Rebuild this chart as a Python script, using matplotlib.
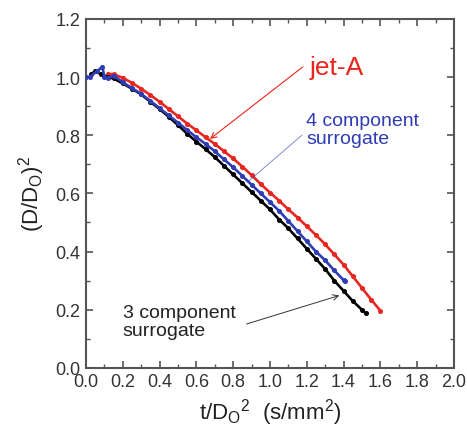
import numpy as np
import matplotlib
matplotlib.use("Agg")
import matplotlib.pyplot as plt

plt.rcParams['font.family'] = ['Liberation Sans', 'DejaVu Sans']
plt.rcParams['mathtext.fontset'] = 'custom'
plt.rcParams['mathtext.rm'] = 'Liberation Sans'
plt.rcParams['mathtext.it'] = 'Liberation Sans'

# data
t_black = [0.03, 0.05, 0.08, 0.12, 0.15, 0.20, 0.25, 0.30, 0.35, 0.40, 0.45, 0.50,
           0.55, 0.60, 0.65, 0.70, 0.75, 0.80, 0.85, 0.90, 0.95, 1.00, 1.05, 1.10,
           1.15, 1.20, 1.25, 1.30, 1.35, 1.40, 1.45, 1.50, 1.52]
d_black = [1.01, 1.02, 1.01, 1.00, 0.995, 0.978, 0.96, 0.94, 0.915, 0.89, 0.863, 0.835,
           0.805, 0.778, 0.752, 0.725, 0.695, 0.665, 0.635, 0.605, 0.575, 0.545, 0.51, 0.48,
           0.445, 0.41, 0.375, 0.34, 0.30, 0.265, 0.23, 0.20, 0.188]

t_blue = [0.00, 0.02, 0.06, 0.09, 0.10, 0.12, 0.15, 0.20, 0.25, 0.30, 0.35, 0.40,
          0.45, 0.50, 0.55, 0.60, 0.65, 0.70, 0.75, 0.80, 0.85, 0.90, 0.95, 1.00,
          1.05, 1.10, 1.15, 1.20, 1.25, 1.30, 1.35, 1.40, 1.41]
d_blue = [1.00, 1.00, 1.02, 1.035, 1.00, 0.995, 1.005, 0.982, 0.962, 0.942, 0.918, 0.893,
          0.868, 0.843, 0.818, 0.793, 0.77, 0.745, 0.717, 0.69, 0.66, 0.63, 0.60, 0.57,
          0.54, 0.505, 0.47, 0.435, 0.40, 0.37, 0.335, 0.302, 0.30]

t_red = [0.12, 0.15, 0.20, 0.25, 0.30, 0.35, 0.40, 0.45, 0.50, 0.55, 0.60, 0.65,
         0.70, 0.75, 0.80, 0.85, 0.90, 0.95, 1.00, 1.05, 1.10, 1.15, 1.20, 1.25,
         1.30, 1.35, 1.40, 1.45, 1.50, 1.55, 1.60]
d_red = [1.01, 1.01, 0.997, 0.98, 0.96, 0.938, 0.915, 0.89, 0.865, 0.84, 0.817, 0.793,
         0.77, 0.745, 0.72, 0.692, 0.663, 0.632, 0.603, 0.575, 0.545, 0.517, 0.487, 0.457,
         0.425, 0.39, 0.355, 0.315, 0.275, 0.235, 0.197]

RED = '#e8261f'
BLUE = '#2e3db5'

fig = plt.figure(figsize=(4.67, 4.31), dpi=100)
ax = fig.add_axes([0.184, 0.144, 0.788, 0.810])

ax.plot(t_black, d_black, color='black', lw=1.9, marker='o', ms=2.6, zorder=3)
ax.plot(t_red, d_red, color=RED, lw=1.9, marker='o', ms=2.6, zorder=2)
ax.plot(t_blue, d_blue, color=BLUE, lw=1.9, marker='o', ms=2.6, zorder=4)

ax.set_xlim(0, 2.0)
ax.set_ylim(0, 1.2)
ax.set_xticks(np.arange(0, 2.01, 0.2))
ax.set_yticks(np.arange(0, 1.21, 0.2))
ax.set_xticks(np.arange(0.1, 2.0, 0.2), minor=True)
ax.set_yticks(np.arange(0.1, 1.2, 0.2), minor=True)
ax.xaxis.set_major_formatter(matplotlib.ticker.FormatStrFormatter('%.1f'))
ax.yaxis.set_major_formatter(matplotlib.ticker.FormatStrFormatter('%.1f'))
ax.tick_params(which='both', direction='in', top=True, right=True, color='#555555',
               labelsize=13, labelcolor='#333333')
ax.tick_params(which='major', length=5, width=1.2, pad=4)
ax.tick_params(which='minor', length=3, width=1.0)
for s in ax.spines.values():
    s.set_color('#555555')
    s.set_linewidth(1.5)

ax.set_xlabel(r'$\mathrm{t/D_O{}^2\ \ (s/mm^2)}$', fontsize=16, color='#222222', labelpad=4)
ax.set_ylabel(r'$\mathrm{(D/D_O)^2}$', fontsize=16, color='#222222', labelpad=6)

# annotations
ax.text(1.217, 1.035, 'jet-A', color=RED, fontsize=19, va='center', ha='left')
ax.annotate('', xy=(0.674, 0.787), xytext=(1.179, 1.035),
            arrowprops=dict(arrowstyle='->', color=RED, lw=0.8, shrinkA=0, shrinkB=0))

ax.text(1.196, 0.82, '4 component\nsurrogate', color=BLUE, fontsize=14,
        va='center', ha='left', linespacing=1.1)
ax.annotate('', xy=(0.88, 0.64), xytext=(1.174, 0.80),
            arrowprops=dict(arrowstyle='-', color=BLUE, lw=0.7, alpha=0.6, shrinkA=0, shrinkB=0))

ax.text(0.20, 0.16, '3 component\nsurrogate', color='#222222', fontsize=14,
        va='center', ha='left', linespacing=1.1)
ax.annotate('', xy=(1.377, 0.249), xytext=(0.873, 0.151),
            arrowprops=dict(arrowstyle='->', color='#333333', lw=0.7, shrinkA=0, shrinkB=0))

fig.savefig('out.png', dpi=100)
